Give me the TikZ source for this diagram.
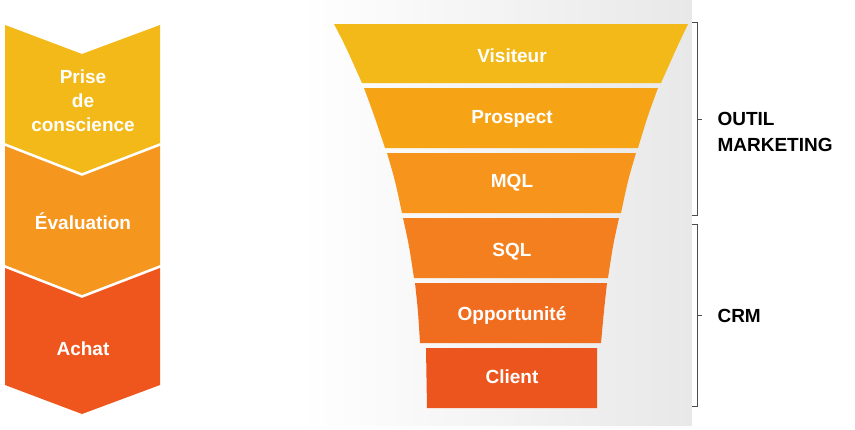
\documentclass[tikz,border=0pt]{standalone}
\usepackage{fontspec}
\setmainfont{Liberation Sans}
\begin{document}
\begin{tikzpicture}[x=1pt,y=-1pt,
  lbl/.style={text=white,font=\bfseries\fontsize{19}{24}\selectfont,align=center},
  side/.style={text=black,font=\bfseries\fontsize{19}{26}\selectfont,align=left,anchor=west},
  brace/.style={draw=black!70,line width=0.6pt}]
\useasboundingbox (0,0) rectangle (855,429);
\fill[white] (0,0) rectangle (855,429);
\shade[left color=white,right color=black!9] (300,0) rectangle (692,425);
\definecolor{cA}{HTML}{F2B918}\definecolor{cB}{HTML}{F6A416}\definecolor{cC}{HTML}{F6941C}
\definecolor{cD}{HTML}{F37F1E}\definecolor{cE}{HTML}{F06C1E}\definecolor{cF}{HTML}{EC561E}
\definecolor{kA}{HTML}{F2B918}\definecolor{kB}{HTML}{F5961E}\definecolor{kC}{HTML}{EE561E}
% chevrons
\fill[kA] (5,25) -- (82,54) -- (160,25) -- (160,143) -- (82,173) -- (5,143) -- cycle;
\fill[kB] (5,146) -- (82,176) -- (160,146) -- (160,265) -- (82,295) -- (5,265) -- cycle;
\fill[kC] (5,268) -- (82,298) -- (160,268) -- (160,385) -- (82,414) -- (5,385) -- cycle;
\node[lbl] (c1) at (83,101) {Prise\\de\\conscience};
\node[lbl] (c2) at (83,221) {Évaluation};
\node[lbl] (c3) at (83,349) {Achat};
% funnel
\fill[cA] (334,24) .. controls (345,45) .. (362,83) -- (661,83) .. controls (678,45) .. (688,24) -- cycle;
\fill[cB] (364,88) .. controls (374,115) .. (385,148) -- (638,148) .. controls (648,115) .. (658,88) -- cycle;
\fill[cC] (387,153) .. controls (395,180) .. (402,213) -- (621,213) .. controls (628,180) .. (636,153) -- cycle;
\fill[cD] (403,218) .. controls (409,245) .. (414,278) -- (608,278) .. controls (613,245) .. (619,218) -- cycle;
\fill[cE] (415,283) .. controls (418,310) .. (420,343) -- (601,343) .. controls (604,310) .. (607,283) -- cycle;
\fill[cF] (426,348) -- (427,408) -- (597,408) -- (597,348) -- cycle;
\node[lbl] (f1) at (512,56) {Visiteur};
\node[lbl] (f2) at (512,119) {Prospect};
\node[lbl] (f3) at (512,183) {MQL};
\node[lbl] (f4) at (512,252) {SQL};
\node[lbl] (f5) at (512,315) {Opportunité};
\node[lbl] (f6) at (512,377) {Client};
% braces
\draw[brace] (692,22) -- (697,22) -- (697,215) -- (692,215);
\draw[brace] (697,119) -- (702,119);
\draw[brace] (692,224) -- (697,224) -- (697,406) -- (692,406);
\draw[brace] (697,315) -- (702,315);
\node[side] (o1) at (714,132) {OUTIL\\MARKETING};
\node[side] (o2) at (714,316) {CRM};
\end{tikzpicture}
\end{document}
